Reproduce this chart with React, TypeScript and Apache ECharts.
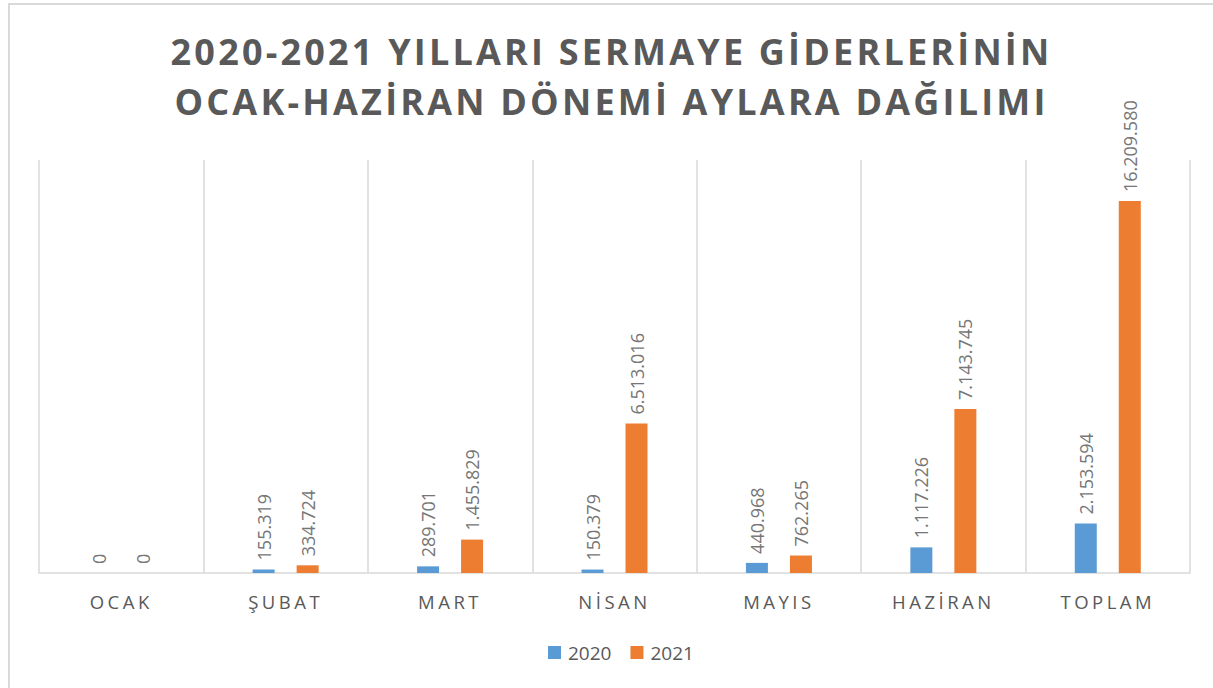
import React, { useEffect, useRef } from "react";
import * as echarts from "echarts";

const categories = ["OCAK", "ŞUBAT", "MART", "NİSAN", "MAYIS", "HAZİRAN", "TOPLAM"];
const values2020 = [0, 155319, 289701, 150379, 440968, 1117226, 2153594];
const values2021 = [0, 334724, 1455829, 6513016, 762265, 7143745, 16209580];
const titleLines = ["2020-2021 YILLARI SERMAYE GİDERLERİNİN", "OCAK-HAZİRAN DÖNEMİ AYLARA DAĞILIMI"];

const fmt = (v: number) => String(Math.round(v)).replace(/\B(?=(\d{3})+(?!\d))/g, ".");

const css = `
.chartwrap text[style*="36px"] { letter-spacing: 3.2px; }
.chartwrap text[style*="18.5px"] { letter-spacing: 3.5px; }
`;

export default function App() {
  const ref = useRef<HTMLDivElement>(null);
  useEffect(() => {
    const chart = echarts.init(ref.current!, null, { renderer: "svg" });
    const labelCfg = {
      show: true,
      position: "top",
      rotate: 90,
      align: "left",
      verticalAlign: "middle",
      distance: 9,
      color: "#767676",
      fontSize: 18,
      fontFamily: "Open Sans",
      formatter: (p: any) => fmt(p.value),
    };
    chart.setOption({
      animation: false,
      backgroundColor: "transparent",
      title: {
        text: titleLines.join("\n"),
        left: "50%",
        textAlign: "center",
        top: 21,
        textStyle: {
          fontFamily: "Open Sans",
          fontWeight: "bold",
          fontSize: 36,
          lineHeight: 50,
          color: "#595959",
        },
      },
      legend: {
        bottom: 21,
        left: 543,
        itemWidth: 13,
        itemHeight: 13,
        itemGap: 19,
        icon: "rect",
        textStyle: { fontFamily: "Open Sans", fontSize: 19, color: "#595959", padding: [0, 0, 0, 2] },
        data: ["2020", "2021"],
      },
      grid: { left: 39, right: 23, top: 160, bottom: 115 },
      xAxis: {
        type: "category",
        data: categories,
        axisLine: { lineStyle: { color: "#d9d9d9", width: 1.5 } },
        axisTick: { show: false },
        splitLine: { show: true, lineStyle: { color: "#d9d9d9", width: 1.5 } },
        axisLabel: {
          margin: 19,
          fontFamily: "Open Sans",
          fontSize: 18.5,
          color: "#595959",
        },
      },
      yAxis: {
        type: "value",
        min: 0,
        max: 18000000,
        show: false,
        splitLine: { show: false },
      },
      series: [
        {
          name: "2020",
          type: "bar",
          data: values2020,
          barWidth: 22,
          barGap: "100%",
          itemStyle: { color: "#5B9BD5" },
          label: labelCfg,
        },
        {
          name: "2021",
          type: "bar",
          data: values2021,
          barWidth: 22,
          barGap: "100%",
          itemStyle: { color: "#ED7D31" },
          label: labelCfg,
        },
      ],
    });
    return () => chart.dispose();
  }, []);
  return (
    <div
      className="chartwrap"
      style={{
        position: "fixed",
        left: 0,
        top: 0,
        width: 1213,
        height: 688,
        overflow: "hidden",
        background: "#fff",
      }}
    >
      <style>{css}</style>
      <div
        style={{
          position: "absolute",
          left: 8,
          top: 3,
          width: 1400,
          height: 900,
          border: "2px solid #d9d9d9",
        }}
      />
      <div ref={ref} style={{ position: "absolute", left: 0, top: 0, width: 1213, height: 688 }} />
    </div>
  );
}
